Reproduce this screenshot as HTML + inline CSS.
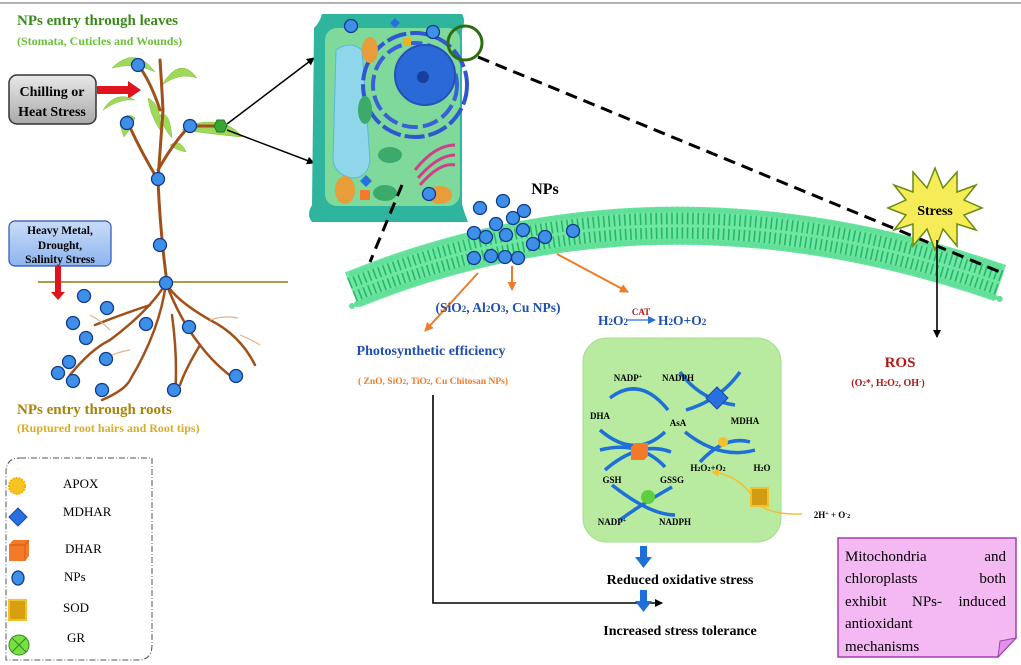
<!DOCTYPE html>
<html><head><meta charset="utf-8"><style>
html,body{margin:0;padding:0;background:#fff}
svg{display:block}
text{font-family:"Liberation Serif",serif}
</style></head><body>
<svg width="1021" height="665" viewBox="0 0 1021 665" xmlns="http://www.w3.org/2000/svg">
<defs>
<linearGradient id="gb" x1="0" y1="0" x2="0" y2="1"><stop offset="0" stop-color="#e8e8e8"/><stop offset="1" stop-color="#a9a9a9"/></linearGradient>
<linearGradient id="bb" x1="0" y1="0" x2="0" y2="1"><stop offset="0" stop-color="#c9dcf7"/><stop offset="1" stop-color="#8db4ee"/></linearGradient>
<marker id="ab" markerWidth="8" markerHeight="8" refX="7" refY="4" orient="auto" markerUnits="userSpaceOnUse"><path d="M0,0 L8,4 L0,8 z" fill="#000"/></marker>
<marker id="ao" markerWidth="9" markerHeight="9" refX="8" refY="4.5" orient="auto" markerUnits="userSpaceOnUse"><path d="M0,0 L9,4.5 L0,9 z" fill="#f07a28"/></marker>
<marker id="abl" markerWidth="8" markerHeight="8" refX="7" refY="4" orient="auto" markerUnits="userSpaceOnUse"><path d="M0,0 L8,4 L0,8 z" fill="#2a6fd6"/></marker>
<marker id="ay" markerWidth="8" markerHeight="8" refX="7" refY="4" orient="auto" markerUnits="userSpaceOnUse"><path d="M0,0 L8,4 L0,8 z" fill="#f2c12e"/></marker>
<g id="np"><circle r="6.5" fill="#3d8fe8" stroke="#123a8a" stroke-width="1.3"/></g>
</defs>
<line x1="0" y1="3" x2="1021" y2="3" stroke="#999" stroke-width="1.5"/>

<text x="17" y="25" font-size="15" font-weight="bold" fill="#3c8a1e">NPs entry through leaves</text>
<text x="17" y="45" font-size="12" font-weight="bold" fill="#6cbf3a">(Stomata, Cuticles and Wounds)</text>

<rect x="9" y="75" width="87" height="49" rx="8" fill="url(#gb)" stroke="#333" stroke-width="1.5"/>
<text x="52" y="96" font-size="14" font-weight="bold" text-anchor="middle">Chilling or</text>
<text x="52" y="116" font-size="14" font-weight="bold" text-anchor="middle">Heat Stress</text>
<path d="M97,86 L128,86 L128,81 L141,90 L128,99 L128,94 L97,94 z" fill="#e0141e"/>

<g fill="#9fd85a" stroke="#7cbf3d" stroke-width="0.5">
<path d="M112,68 Q135,45 155,72 Q135,62 112,68z"/>
<path d="M162,85 Q180,55 197,78 Q180,72 162,85z"/>
<path d="M103,110 Q115,90 135,100 Q120,98 103,110z"/>
<path d="M120,125 Q125,110 135,118 Q130,130 124,137z"/>
<path d="M148,98 Q162,105 160,130 Q150,115 148,98z"/>
<path d="M160,115 Q170,110 172,138 Q163,128 160,115z"/>
<path d="M182,130 Q200,118 225,124 Q238,130 242,137 Q220,135 182,130z"/>
<path d="M170,145 Q180,138 186,152 Q176,150 170,145z"/>
</g>
<g fill="none" stroke="#a0501a" stroke-width="3" stroke-linecap="round">
<path d="M167,283 Q160,230 158,180 Q160,150 163,110 Q162,90 160,60"/>
<path d="M158,180 Q140,150 128,123"/>
<path d="M158,170 Q175,140 190,126 L220,126"/>
<path d="M160,110 Q150,80 138,65"/>
</g>
<g fill="none" stroke="#a0501a" stroke-width="2.5" stroke-linecap="round">
<path d="M166,283 Q150,310 110,340 Q90,350 70,375"/>
<path d="M166,283 Q160,330 130,380 Q125,390 102,400"/>
<path d="M166,283 Q180,320 200,345 Q215,365 236,380"/>
<path d="M166,283 Q175,300 210,320 Q240,335 255,365"/>
<path d="M150,305 Q120,315 95,325"/>
<path d="M172,315 Q178,360 175,395"/>
<path d="M200,345 Q185,370 180,385"/>
</g>
<g fill="none" stroke="#e2b08a" stroke-width="1.2">
<path d="M110,330 Q100,320 90,315"/><path d="M210,320 Q225,315 238,318"/><path d="M240,335 Q252,340 260,345"/><path d="M130,350 Q118,352 110,356"/>
</g>
<polygon points="214,126 217,120 224,120 227,126 224,132 217,132" fill="#3aa534" stroke="#1f7a1f"/>
<line x1="227" y1="124" x2="314" y2="58" stroke="#000" stroke-width="1.5" marker-end="url(#ab)"/>
<line x1="227" y1="130" x2="314" y2="163" stroke="#000" stroke-width="1.5" marker-end="url(#ab)"/>
<line x1="38" y1="282" x2="288" y2="282" stroke="#8a7a10" stroke-width="1.5"/>

<rect x="9" y="221" width="102" height="45" rx="6" fill="url(#bb)" stroke="#2a55b0" stroke-width="1.2"/>
<text x="60" y="234" font-size="11.5" font-weight="bold" text-anchor="middle">Heavy Metal,</text>
<text x="60" y="249" font-size="11.5" font-weight="bold" text-anchor="middle">Drought,</text>
<text x="60" y="263" font-size="11.5" font-weight="bold" text-anchor="middle">Salinity Stress</text>
<path d="M55,266 L61,266 L61,292 L65,292 L58,300 L51,292 L55,292z" fill="#e0141e"/>

<use href="#np" x="138" y="65"/><use href="#np" x="127" y="123"/><use href="#np" x="190" y="126"/><use href="#np" x="158" y="179"/><use href="#np" x="160" y="245"/><use href="#np" x="166" y="283"/>
<use href="#np" x="84" y="296"/><use href="#np" x="107" y="308"/><use href="#np" x="73" y="323"/><use href="#np" x="86" y="338"/><use href="#np" x="106" y="359"/><use href="#np" x="69" y="362"/><use href="#np" x="58" y="373"/><use href="#np" x="73" y="381"/><use href="#np" x="102" y="390"/><use href="#np" x="146" y="324"/><use href="#np" x="189" y="327"/><use href="#np" x="174" y="390"/><use href="#np" x="236" y="376"/>

<text x="17" y="414" font-size="15" font-weight="bold" fill="#a88408">NPs entry through roots</text>
<text x="17" y="432" font-size="12" font-weight="bold" fill="#d8ad2a">(Ruptured  root hairs and  Root tips)</text>

<path d="M20,458 L152,458 L152,645 Q152,660 138,660 L6,660 L6,472 Q6,458 20,458z" fill="none" stroke="#555" stroke-width="1" stroke-dasharray="6 2 1 2"/>
<circle cx="17" cy="486" r="8" fill="#f7c320" stroke="#f5b000" stroke-width="2" stroke-dasharray="2 1"/>
<text x="63" y="488" font-size="13">APOX</text>
<polygon points="18,508 27,517 18,526 9,517" fill="#2a6fe0" stroke="#1848a8"/>
<text x="63" y="516" font-size="13">MDHAR</text>
<path d="M9,545 L13,540 L29,540 L29,556 L25,561 L9,561z" fill="#f47a2a"/><path d="M9,545 L25,545 L29,540 M25,545 L25,561" stroke="#d85a10" fill="none"/>
<text x="65" y="553" font-size="13">DHAR</text>
<ellipse cx="18" cy="578" rx="6" ry="7" fill="#3d8fe8" stroke="#123a8a" stroke-width="1.3"/>
<text x="64" y="581" font-size="13">NPs</text>
<rect x="9" y="600" width="17" height="20" fill="#d8a010" stroke="#f2c12e" stroke-width="2"/>
<text x="63" y="612" font-size="13">SOD</text>
<circle cx="19" cy="645" r="10" fill="#78e040" stroke="#2e8a1e"/><path d="M12,638 L26,652 M26,638 L12,652" stroke="#2e8a1e"/>
<text x="67" y="642" font-size="13">GR</text>

<!-- cell -->
<path d="M322,14 Q320,22 314,28 L312,205 Q306,215 312,222 L468,222 Q464,212 462,204 L462,30 Q466,20 462,14 z" fill="#2fb59e"/>
<rect x="325" y="28" width="135" height="178" rx="12" fill="#7ed99a"/>
<path d="M336,50 Q350,40 362,50 L370,160 Q368,178 352,178 Q335,175 333,160 z" fill="#8fd6ea" stroke="#5ab8d8"/>
<circle cx="415" cy="85" r="52" fill="none" stroke="#3055d0" stroke-width="4" stroke-dasharray="20 4"/>
<circle cx="415" cy="85" r="42" fill="none" stroke="#3a5fd8" stroke-width="4" stroke-dasharray="16 5"/>
<circle cx="425" cy="75" r="30" fill="#2a6ad8" stroke="#2650b8" stroke-width="2"/>
<circle cx="423" cy="77" r="6" fill="#183f9e"/>
<ellipse cx="370" cy="50" rx="8" ry="13" fill="#e89c3a"/>
<ellipse cx="345" cy="190" rx="10" ry="14" fill="#e89c3a"/>
<ellipse cx="440" cy="195" rx="12" ry="9" fill="#e89c3a"/>
<ellipse cx="365" cy="110" rx="7" ry="14" fill="#3caa6a"/>
<ellipse cx="390" cy="155" rx="12" ry="8" fill="#3caa6a"/>
<ellipse cx="385" cy="193" rx="12" ry="8" fill="#3caa6a"/>
<path d="M415,170 Q435,145 455,145 M418,178 Q438,155 455,155 M420,185 Q440,162 455,165" fill="none" stroke="#d0408a" stroke-width="3"/>
<rect x="403" y="38" width="8" height="8" fill="#f0b020"/>
<polygon points="395,18 400,23 395,28 390,23" fill="#2a6fe0"/>
<polygon points="366,175 372,181 366,187 360,181" fill="#2a6fe0"/>
<rect x="360" y="190" width="10" height="10" fill="#f47a2a"/>
<use href="#np" x="351" y="26"/><use href="#np" x="433" y="32"/><use href="#np" x="429" y="194"/>
<circle cx="465" cy="43" r="17" fill="none" stroke="#2e6e10" stroke-width="3"/>

<!-- membrane -->
<path d="M352,290 Q660,165 1000,283" fill="none" stroke="#6fe6a3" stroke-width="38"/>
<path d="M352,290 Q660,165 1000,283" fill="none" stroke="#26b864" stroke-width="26" stroke-dasharray="1.6 3.6"/>
<path d="M352,290 Q660,165 1000,283" fill="none" stroke="#6fe6a3" stroke-width="3"/>
<path d="M352,274 Q660,149 1000,267" fill="none" stroke="#62e09a" stroke-width="6" stroke-linecap="round" stroke-dasharray="0.1 5.2"/>
<path d="M352,306 Q660,181 1000,299" fill="none" stroke="#62e09a" stroke-width="6" stroke-linecap="round" stroke-dasharray="0.1 5.2"/>

<line x1="478" y1="57" x2="1000" y2="272" stroke="#000" stroke-width="3" stroke-dasharray="12 7"/>
<line x1="402" y1="185" x2="370" y2="262" stroke="#000" stroke-width="3" stroke-dasharray="12 7"/>

<text x="545" y="194" font-size="16" font-weight="bold" text-anchor="middle">NPs</text>
<use href="#np" x="480" y="208"/><use href="#np" x="503" y="201"/><use href="#np" x="513" y="218"/><use href="#np" x="524" y="211"/><use href="#np" x="496" y="224"/><use href="#np" x="474" y="233"/><use href="#np" x="486" y="237"/><use href="#np" x="506" y="235"/><use href="#np" x="523" y="230"/><use href="#np" x="545" y="237"/><use href="#np" x="533" y="244"/><use href="#np" x="474" y="258"/><use href="#np" x="491" y="256"/><use href="#np" x="505" y="257"/><use href="#np" x="518" y="258"/><use href="#np" x="573" y="231"/>

<line x1="478" y1="273" x2="425" y2="331" stroke="#f07a28" stroke-width="2" marker-end="url(#ao)"/>
<line x1="512" y1="266" x2="512" y2="290" stroke="#f07a28" stroke-width="2" marker-end="url(#ao)"/>
<line x1="557" y1="254" x2="628" y2="292" stroke="#f07a28" stroke-width="2" marker-end="url(#ao)"/>

<text x="498" y="312" font-size="13.5" font-weight="bold" fill="#1f4fb0" text-anchor="middle">(SiO<tspan font-size="9">2</tspan>, Al<tspan font-size="9">2</tspan>O<tspan font-size="9">3</tspan>, Cu NPs)</text>
<text x="598" y="325" font-size="13.5" font-weight="bold" fill="#1f4fb0">H<tspan font-size="9">2</tspan>O<tspan font-size="9">2</tspan></text>
<line x1="627" y1="320" x2="655" y2="320" stroke="#2a6fd6" stroke-width="1.2" marker-end="url(#abl)"/>
<text x="641" y="315" font-size="9" font-weight="bold" fill="#b01818" text-anchor="middle">CAT</text>
<text x="658" y="325" font-size="13.5" font-weight="bold" fill="#1f4fb0">H<tspan font-size="9">2</tspan>O+O<tspan font-size="9">2</tspan></text>

<text x="431" y="355" font-size="14" font-weight="bold" fill="#1f4fb0" text-anchor="middle">Photosynthetic efficiency</text>
<text x="433" y="384" font-size="9.5" font-weight="bold" fill="#f07a28" text-anchor="middle">( ZnO, SiO<tspan font-size="7">2</tspan>, TiO<tspan font-size="7">2</tspan>, Cu Chitosan NPs)</text>
<path d="M433,395 L433,603 L662,603" fill="none" stroke="#000" stroke-width="1.6" marker-end="url(#ab)"/>

<rect x="583" y="338" width="198" height="204" rx="24" fill="#b8eb9f" stroke="#a5dc8c"/>
<g fill="none" stroke="#1e6fd8" stroke-width="3.5">
<path d="M680,372 Q700,400 735,405"/><path d="M740,372 Q720,400 686,410"/>
<path d="M668,410 Q640,375 610,398"/>
<path d="M600,430 Q635,460 665,432"/><path d="M671,452 Q640,440 605,470"/><path d="M600,450 Q640,440 665,467"/>
<path d="M685,432 Q720,460 755,450"/><path d="M700,462 Q725,435 750,442"/>
<path d="M612,485 Q650,515 675,515"/><path d="M672,487 Q640,505 620,520"/>
</g>
<polygon points="717,387 728,398 717,409 706,398" fill="#2a6fe0" stroke="#1848a8"/>
<path d="M631,447 L635,443 L648,443 L648,456 L644,460 L631,460z" fill="#f47a2a"/>
<circle cx="723" cy="442" r="5" fill="#f2c12e"/>
<circle cx="648" cy="497" r="7" fill="#5cd040"/>
<g font-size="9" font-weight="bold">
<text x="628" y="381" text-anchor="middle">NADP<tspan font-size="6" dy="-3">+</tspan></text>
<text x="678" y="381" text-anchor="middle">NADPH</text>
<text x="600" y="419" text-anchor="middle">DHA</text>
<text x="678" y="426" text-anchor="middle">AsA</text>
<text x="745" y="424" text-anchor="middle">MDHA</text>
<text x="708" y="471" text-anchor="middle">H<tspan font-size="6">2</tspan>O<tspan font-size="6">2</tspan>+O<tspan font-size="6">2</tspan></text>
<text x="762" y="471" text-anchor="middle">H<tspan font-size="6">2</tspan>O</text>
<text x="612" y="483" text-anchor="middle">GSH</text>
<text x="672" y="483" text-anchor="middle">GSSG</text>
<text x="612" y="525" text-anchor="middle">NADP<tspan font-size="6" dy="-3">+</tspan></text>
<text x="675" y="525" text-anchor="middle">NADPH</text>
<text x="832" y="518" text-anchor="middle">2H<tspan font-size="6" dy="-3">+</tspan><tspan dy="3"> + O</tspan><tspan font-size="6" dy="-3">-</tspan><tspan font-size="6" dy="3">2</tspan></text>
</g>
<path d="M802,514 Q765,515 755,500 Q740,475 712,472" fill="none" stroke="#f2c12e" stroke-width="1.5" marker-end="url(#ay)"/>
<rect x="751" y="488" width="17" height="18" fill="#d39b12" stroke="#f2c12e" stroke-width="2"/>

<path d="M640,546 L647,546 L647,557 L652,557 L643.5,568 L635,557 L640,557z" fill="#1e6fd8"/>
<path d="M640,590 L647,590 L647,601 L652,601 L643.5,612 L635,601 L640,601z" fill="#1e6fd8"/>
<text x="680" y="584" font-size="14" font-weight="bold" text-anchor="middle">Reduced oxidative stress</text>
<text x="680" y="635" font-size="14" font-weight="bold" text-anchor="middle">Increased stress tolerance</text>

<polygon points="935,168 943,188 957,172 957,192 976,185 964,200 982,208 964,215 976,230 957,224 957,246 943,229 935,250 927,229 913,246 913,224 894,230 906,215 888,208 906,200 894,185 913,192 913,172 927,188" fill="#f5ec58" stroke="#6a8a10" stroke-width="1.5"/>
<text x="935" y="215" font-size="14" font-weight="bold" text-anchor="middle">Stress</text>
<line x1="937" y1="240" x2="937" y2="337" stroke="#000" stroke-width="1.6" marker-end="url(#ab)"/>
<text x="900" y="367" font-size="15" font-weight="bold" fill="#b01818" text-anchor="middle">ROS</text>
<text x="888" y="386" font-size="10" font-weight="bold" fill="#b01818" text-anchor="middle">(O<tspan font-size="7">2</tspan>*, H<tspan font-size="7">2</tspan>O<tspan font-size="7">2</tspan>, OH<tspan font-size="7" dy="-3">-</tspan><tspan dy="3">)</tspan></text>

<path d="M838,538 L1016,538 L1016,638 L998,657 L838,657z" fill="#f4b8f2" stroke="#a040b0" stroke-width="1.5"/>
<path d="M1016,638 L1000,641 L998,657z" fill="#e090e8" stroke="#a040b0"/>
<g font-size="15">
<text x="845" y="561">Mitochondria</text><text x="1006" y="561" text-anchor="end">and</text>
<text x="845" y="583">chloroplasts</text><text x="1006" y="583" text-anchor="end">both</text>
<text x="845" y="606">exhibit</text><text x="912" y="606">NPs-</text><text x="1006" y="606" text-anchor="end">induced</text>
<text x="845" y="628">antioxidant</text>
<text x="845" y="651">mechanisms</text>
</g>
</svg>
</body></html>
